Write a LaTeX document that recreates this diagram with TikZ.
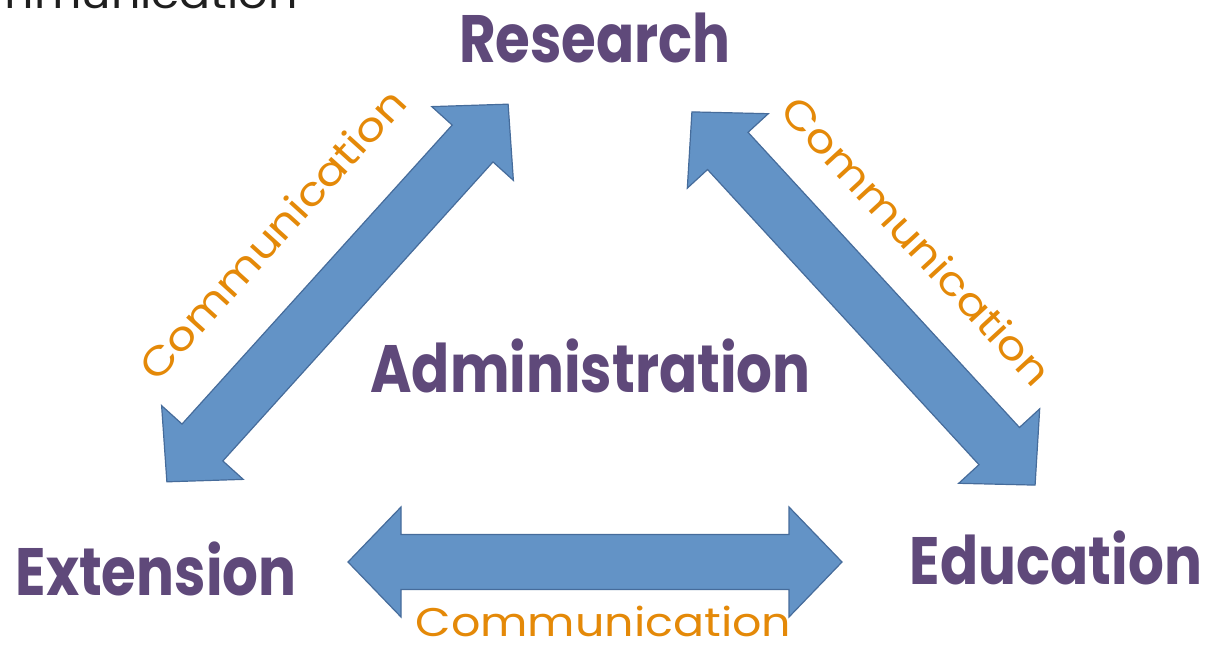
\documentclass[tikz,border=0pt]{standalone}
\usepackage{fontspec}
\setmainfont{Poppins}
\newfontfamily\titlefont{Poppins}[FakeStretch=0.84]
\newfontfamily\commfont{Poppins}[FakeStretch=1.15]
\definecolor{arrowblue}{RGB}{99,147,198}
\definecolor{arrowedge}{RGB}{70,108,155}
\definecolor{labpurple}{RGB}{95,73,122}
\definecolor{comorange}{RGB}{228,137,8}
\newcommand\blockdblarrow[4]{% center x, center y, angle, length
  \begin{scope}[shift={(#1,#2)}, rotate=#3]
    \path[bigarrow] ({-0.5*#4},0) -- ({-0.5*#4+53},55) -- ({-0.5*#4+53},27.5)
      -- ({0.5*#4-53},27.5) -- ({0.5*#4-53},55) -- ({0.5*#4},0)
      -- ({0.5*#4-53},-55) -- ({0.5*#4-53},-27.5) -- ({-0.5*#4+53},-27.5)
      -- ({-0.5*#4+53},-55) -- cycle;
  \end{scope}}
\begin{document}
\begin{tikzpicture}[x=1pt,y=1pt,
  bigarrow/.style={fill=arrowblue, draw=arrowedge, line width=1.2pt, line join=miter},
  title/.style={text=labpurple, font=\fontsize{67}{67}\titlefont\bfseries, inner sep=0pt, anchor=base},
  comm/.style={text=comorange, font=\fontsize{40}{40}\commfont, inner sep=0pt, anchor=base}]
\useasboundingbox (0,0) rectangle (1215,646);
\clip (0,0) rectangle (1215,646);
% block arrows
\blockdblarrow{337.5}{353}{47.9}{509}
\blockdblarrow{863.5}{347.5}{-47.4}{507}
\blockdblarrow{595}{84}{0}{494}
% labels
\node[title] (research) at (595,583) {Research};
\node[title] (admin) at (590.5,254) {Administration};
\node[title] (extension) at (156,51) {Extension};
\node[title] (education) at (1056,62) {Education};
% communication labels
\node[comm, rotate=47.9] (commleft) at (283,402) {Communication};
\node[comm, rotate=-47.4] (commright) at (906,395) {Communication};
\node[comm] (commbottom) at (603.5,10) {Communication};
\node[comm, text=black!88, anchor=base east] (commtop) at (298,637) {Communication};
\end{tikzpicture}
\end{document}
